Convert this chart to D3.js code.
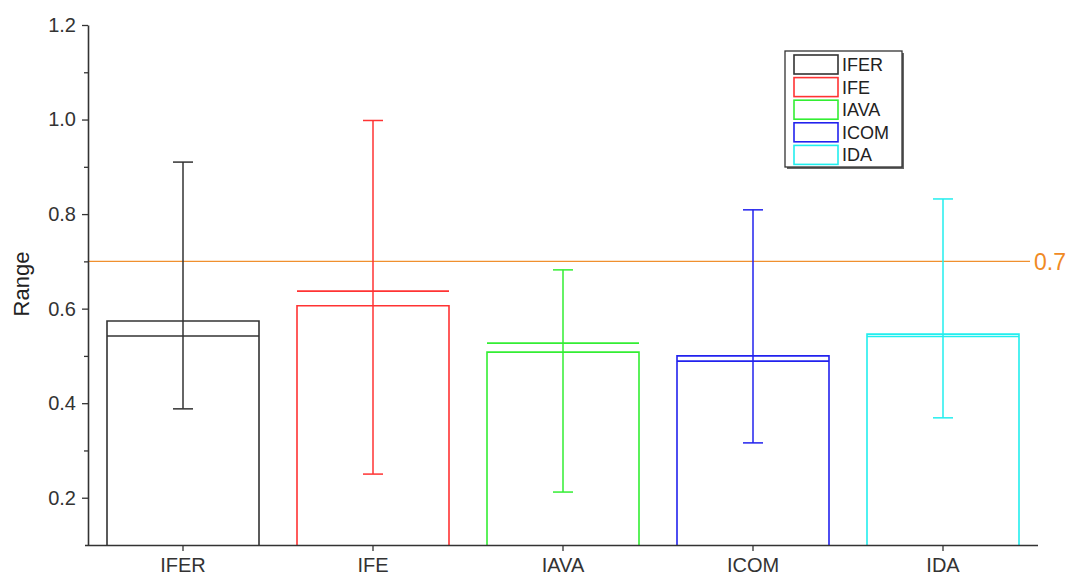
<!DOCTYPE html>
<html>
<head>
<meta charset="utf-8">
<script src="https://cdn.jsdelivr.net/npm/d3@7"></script>
<style>
  html, body { margin: 0; padding: 0; background: #fff; }
  svg { display: block; font-family: "Liberation Sans", Arial, sans-serif; }
</style>
</head>
<body>
<svg id="chart" width="1070" height="577"></svg>
<script>
const categories = ["IFER", "IFE", "IAVA", "ICOM", "IDA"];
const barValues  = [0.574, 0.606, 0.508, 0.500, 0.546];
const lineValues = [0.542, 0.637, 0.527, 0.489, 0.541];
const errLow     = [0.388, 0.250, 0.212, 0.316, 0.369];
const errHigh    = [0.910, 0.998, 0.682, 0.809, 0.832];
const colors     = ["#333333", "#ff3333", "#33ee33", "#2222ee", "#22eeee"];
const yTicks     = [0.2, 0.4, 0.6, 0.8, 1.0, 1.2];
const yMinorTicks = [0.3, 0.5, 0.7, 0.9, 1.1];
const refValue   = 0.7;

(function () {
const svg = d3.select("#chart");
const mLeft = 88, mRight = 1038, mTop = 25, mBottom = 545;

const x = d3.scaleBand().domain(categories).range([mLeft, mRight])
  .paddingInner(0.2).paddingOuter(0.1);
const y = d3.scaleLinear().domain([0.1, 1.2]).range([mBottom, mTop]);

const data = categories.map((c, i) => ({
  c, bar: barValues[i], line: lineValues[i], lo: errLow[i], hi: errHigh[i], color: colors[i]
}));

// reference line
svg.append("line")
  .attr("x1", mLeft).attr("x2", 1030)
  .attr("y1", y(refValue)).attr("y2", y(refValue))
  .attr("stroke", "#f0902e").attr("stroke-width", 1.3);
svg.append("text")
  .attr("x", 1034).attr("y", y(refValue)).attr("dy", "0.36em")
  .attr("fill", "#f08a24").attr("font-size", 23)
  .text(String(refValue));

const g = svg.append("g");
data.forEach(d => {
  const x0 = x(d.c), x1 = x(d.c) + x.bandwidth(), cx = x(d.c) + x.bandwidth() / 2;
  g.append("path")
    .attr("d", `M${x0},${mBottom}V${y(d.bar)}H${x1}V${mBottom}`)
    .attr("fill", "none").attr("stroke", d.color).attr("stroke-width", 1.6);
  g.append("line")
    .attr("x1", x0).attr("x2", x1)
    .attr("y1", y(d.line)).attr("y2", y(d.line))
    .attr("stroke", d.color).attr("stroke-width", 1.6);
  g.append("line")
    .attr("x1", cx).attr("x2", cx)
    .attr("y1", y(d.lo)).attr("y2", y(d.hi))
    .attr("stroke", d.color).attr("stroke-width", 1.5);
  [d.lo, d.hi].forEach(v => {
    g.append("line")
      .attr("x1", cx - 10).attr("x2", cx + 10)
      .attr("y1", y(v)).attr("y2", y(v))
      .attr("stroke", d.color).attr("stroke-width", 1.5);
  });
});

// axes
const axisColor = "#333";
const yAxis = svg.append("g").attr("transform", `translate(${mLeft},0)`)
  .call(d3.axisLeft(y).tickValues(yTicks).tickFormat(d3.format(".1f")).tickSize(6).tickSizeOuter(0));
const yMinor = svg.append("g").attr("transform", `translate(${mLeft},0)`)
  .call(d3.axisLeft(y).tickValues(yMinorTicks).tickFormat("").tickSize(4).tickSizeOuter(0));
yMinor.select(".domain").remove();
const xAxis = svg.append("g").attr("transform", `translate(0,${mBottom})`)
  .call(d3.axisBottom(x).tickSize(6).tickSizeOuter(0));

[yAxis, yMinor, xAxis].forEach(a => {
  a.selectAll(".domain").attr("stroke", axisColor).attr("stroke-width", 1.6);
  a.selectAll(".tick line").attr("stroke", axisColor).attr("stroke-width", 1.3);
  a.selectAll(".tick text").attr("fill", "#333").attr("font-size", 20)
    .attr("font-family", "'Liberation Sans', Arial, sans-serif");
});
yAxis.selectAll(".tick text").attr("x", -12);
xAxis.selectAll(".tick text").attr("y", 13);
xAxis.select(".domain").attr("d", `M${mLeft - 3},0.5H${mRight}`);

// y label
svg.append("text")
  .attr("transform", `translate(29,284) rotate(-90)`)
  .attr("text-anchor", "middle").attr("fill", "#222").attr("font-size", 22)
  .text("Range");

// legend
const lg = svg.append("g").attr("transform", "translate(785,51)");
lg.append("rect").attr("x", 2).attr("y", 2).attr("width", 117).attr("height", 116)
  .attr("fill", "#666");
lg.append("rect").attr("x", 0).attr("y", 0).attr("width", 117).attr("height", 116)
  .attr("fill", "#fff").attr("stroke", "#333").attr("stroke-width", 1.3);
categories.forEach((c, i) => {
  const ry = 4 + i * 22.6;
  lg.append("rect").attr("x", 9).attr("y", ry).attr("width", 44).attr("height", 19)
    .attr("fill", "none").attr("stroke", colors[i]).attr("stroke-width", 1.6);
  lg.append("text").attr("x", 57).attr("y", ry + 9.5).attr("dy", "0.36em")
    .attr("font-size", 18).attr("fill", "#222").text(c);
});
})();
</script>
</body>
</html>
